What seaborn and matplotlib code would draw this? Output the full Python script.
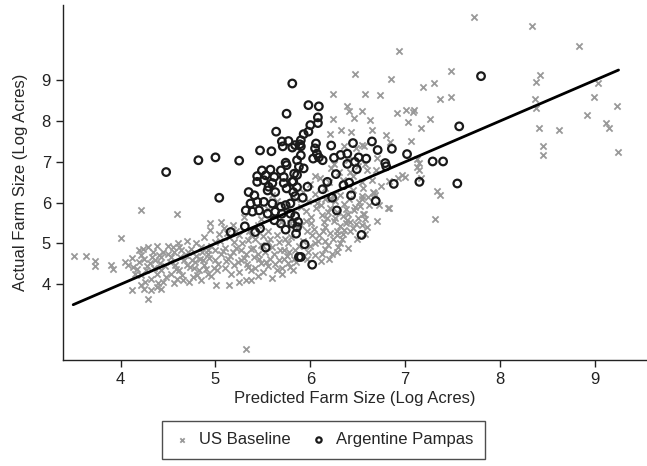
import numpy as np
import pandas as pd
import seaborn as sns
import matplotlib.pyplot as plt

# US Baseline (x = predicted, y = actual)
us_points = [
    (7.73, 10.54), (8.34, 10.32), (8.83, 9.83), (7.48, 9.23), (7.30, 8.93), (7.19, 8.84),
    (8.42, 9.14), (8.38, 8.96), (9.03, 8.92), (7.37, 8.54), (7.48, 8.59), (8.37, 8.53),
    (8.38, 8.31), (8.99, 8.58), (9.23, 8.36), (7.01, 8.28), (7.09, 8.26), (7.08, 8.22),
    (7.03, 7.98), (7.26, 8.04), (7.17, 7.83), (8.41, 7.82), (8.62, 7.79), (7.06, 7.50),
    (8.45, 7.39), (8.45, 7.18), (9.24, 7.24), (7.13, 7.06), (7.13, 6.88), (6.97, 6.68),
    (7.17, 6.61), (7.34, 6.28), (7.31, 5.60), (8.92, 8.14), (9.12, 7.94), (9.15, 7.82),
    (6.94, 9.71), (6.47, 9.16), (6.85, 9.04), (6.24, 8.66), (6.58, 8.66), (6.73, 8.64),
    (6.39, 8.38), (6.41, 8.24), (6.55, 8.25), (6.91, 8.19), (6.24, 8.04), (6.46, 8.07),
    (6.63, 8.03), (6.32, 7.79), (6.43, 7.72), (6.65, 7.79), (6.80, 7.65), (6.84, 7.48),
    (6.36, 7.38), (6.57, 7.40), (6.48, 7.35), (6.21, 7.68), (6.55, 7.42),
    (7.00, 6.62), (6.92, 6.60), (7.15, 6.80), (7.15, 6.98), (6.69, 6.80), (6.83, 6.52),
    (7.37, 6.20), (6.68, 6.20), (6.55, 6.10), (6.24, 6.20), (6.83, 5.86), (6.56, 5.73),
    (6.67, 6.24), (6.54, 6.16), (6.25, 5.56), (6.28, 5.31), (6.34, 5.23), (6.42, 5.52),
    (6.45, 5.39), (6.58, 5.23), (6.29, 4.92), (6.28, 4.80), (6.23, 4.75), (6.40, 5.72),
    (6.47, 5.89), (6.82, 5.86), (6.57, 5.73), (6.66, 6.25),
    (5.92, 6.25), (5.98, 6.05), (6.05, 6.22), (6.11, 5.94), (6.16, 6.08), (6.21, 5.88),
    (6.26, 6.03), (6.31, 6.18), (6.36, 5.96), (6.41, 6.09), (6.45, 6.31), (6.51, 6.01),
    (6.56, 6.36), (6.61, 6.13), (5.95, 5.79), (6.01, 5.64), (6.06, 5.86), (6.12, 5.69),
    (6.14, 5.53), (6.19, 5.76), (6.26, 5.62), (6.31, 5.44), (6.35, 5.68), (6.39, 5.57),
    (6.46, 5.81), (6.50, 5.62), (6.55, 5.46), (5.90, 5.45), (5.96, 5.31), (6.01, 5.50),
    (6.04, 5.36), (6.09, 5.21), (6.16, 5.41), (6.21, 5.26), (6.24, 5.11), (6.31, 5.01),
    (6.36, 5.34), (6.49, 5.12), (5.92, 5.06), (6.00, 4.94), (6.08, 5.06), (6.15, 4.86),
    (6.19, 4.96), (6.05, 4.71), (5.96, 4.61), (6.11, 4.56),
    (5.95, 5.55), (6.02, 5.20), (6.07, 5.98), (6.13, 5.30), (6.18, 5.62), (6.22, 6.10),
    (6.28, 5.78), (6.33, 5.10), (6.38, 5.85), (6.42, 5.30), (6.48, 5.48), (6.52, 5.92),
    (6.58, 5.60), (6.62, 5.95), (6.05, 5.00), (6.15, 5.05), (6.28, 5.20), (6.38, 5.50),
    (5.98, 4.80), (6.12, 4.75), (6.20, 4.62), (6.40, 4.90), (6.60, 5.40), (6.70, 5.55),
    (6.72, 5.95), (6.75, 6.40),
    (6.00, 6.45), (6.10, 6.60), (6.20, 6.50), (6.30, 6.75), (6.35, 6.55), (6.45, 6.65),
    (6.50, 6.90), (6.55, 6.50), (6.60, 6.80), (6.25, 6.95), (6.40, 7.05), (6.15, 6.35),
    (6.05, 6.65), (6.22, 6.85), (6.42, 6.75), (6.58, 6.95), (6.65, 6.55), (6.70, 7.10),
    (3.51, 4.69), (3.64, 4.69), (3.73, 4.57), (3.73, 4.44), (3.90, 4.47), (3.92, 4.37),
    (4.00, 5.13), (4.22, 5.83), (4.59, 5.72), (4.05, 4.55), (4.12, 3.85), (4.29, 3.63),
    (4.22, 3.98), (4.25, 3.89), (4.32, 3.85), (4.38, 3.93), (4.43, 3.89), (4.39, 4.02),
    (4.72, 4.06), (4.19, 4.83), (4.24, 4.87), (4.29, 4.91), (4.34, 4.79), (4.38, 4.93),
    (4.08, 4.47), (4.13, 4.42), (4.19, 4.55), (4.25, 4.63), (4.31, 4.51), (4.36, 4.59),
    (4.43, 4.67), (4.50, 4.75), (4.55, 4.91), (4.60, 5.00), (4.64, 4.83), (4.69, 4.71),
    (4.74, 4.87), (4.80, 5.00), (4.85, 4.91), (4.92, 4.83), (4.53, 4.67), (4.57, 4.47),
    (4.62, 4.34), (4.67, 4.59), (4.73, 4.42), (4.78, 4.55), (4.83, 4.34), (4.88, 4.47),
    (4.92, 4.26), (4.43, 4.34), (4.48, 4.18), (4.53, 4.26), (4.59, 4.14), (4.66, 4.10),
    (4.38, 4.26), (4.32, 4.14), (4.27, 4.34), (4.22, 4.22), (4.15, 4.26), (4.81, 4.22),
    (4.76, 4.18),
    (4.12, 4.65), (4.17, 4.38), (4.21, 4.72), (4.28, 4.45), (4.33, 4.68), (4.35, 4.40),
    (4.41, 4.52), (4.45, 4.80), (4.47, 4.45), (4.52, 4.55), (4.56, 4.80), (4.58, 4.38),
    (4.63, 4.68), (4.65, 4.22), (4.70, 4.48), (4.71, 4.80), (4.77, 4.40), (4.79, 4.70),
    (4.84, 4.62), (4.86, 4.80), (4.90, 4.38), (4.93, 4.65), (4.50, 4.95), (4.40, 4.72),
    (4.62, 4.92), (4.45, 4.05), (4.26, 4.05), (4.56, 4.02),
    (4.88, 5.16), (4.94, 5.32), (4.99, 5.04), (5.04, 5.24), (5.09, 5.37), (5.14, 5.16),
    (5.20, 5.04), (5.25, 5.20), (5.27, 4.83), (5.34, 5.08), (5.37, 4.87), (5.42, 5.12),
    (5.48, 4.96), (5.55, 5.04), (5.60, 4.91), (5.67, 5.04), (5.72, 4.83), (5.77, 5.00),
    (5.84, 4.83), (4.92, 4.75), (4.99, 4.59), (5.06, 4.75), (5.13, 4.63), (5.20, 4.47),
    (5.27, 4.59), (5.34, 4.42), (5.41, 4.67), (5.48, 4.51), (5.58, 4.63), (5.67, 4.59),
    (5.76, 4.51), (5.83, 4.63), (5.02, 4.34), (5.16, 4.26), (5.37, 4.34), (5.01, 3.98),
    (5.14, 3.98), (5.37, 4.10), (5.65, 4.34), (5.79, 4.42), (5.30, 5.65), (5.48, 5.61),
    (5.69, 5.53), (5.79, 5.49), (5.86, 5.37), (4.94, 5.49), (5.06, 5.53), (5.18, 5.45),
    (4.95, 4.95), (5.00, 4.85), (5.05, 5.05), (5.10, 4.90), (5.15, 4.70), (5.22, 4.90),
    (5.30, 4.65), (5.45, 4.75), (5.50, 4.95), (5.55, 4.45), (5.62, 4.75), (5.70, 4.40),
    (5.75, 4.70), (5.85, 4.55), (5.65, 5.20), (5.55, 5.30), (5.80, 5.15), (5.35, 5.30),
    (5.45, 5.45), (4.70, 5.05), (4.75, 4.60), (4.87, 4.60), (4.98, 4.40), (5.10, 4.40),
    (5.25, 4.30), (5.45, 4.20), (5.60, 4.15), (4.85, 4.10), (4.95, 4.20), (5.32, 4.10),
    (5.03, 4.50), (5.08, 4.82), (5.11, 4.58), (5.18, 4.78), (5.24, 4.55), (5.28, 5.00),
    (5.32, 4.75), (5.33, 4.50), (5.40, 4.88), (5.42, 4.40), (5.46, 4.62), (5.52, 4.78),
    (5.53, 4.55), (5.58, 5.12), (5.63, 4.50), (5.68, 4.85), (5.72, 4.62), (5.73, 5.10),
    (5.78, 4.78), (5.82, 4.35), (5.88, 4.95), (5.12, 5.25), (5.22, 5.30), (5.38, 5.20),
    (5.50, 5.18), (5.25, 4.05), (5.50, 4.30), (5.70, 4.25),
    (5.55, 5.85), (5.65, 6.05), (5.75, 5.85), (5.85, 6.10), (5.60, 6.20), (5.90, 5.90),
    (5.32, 2.41),
]

# Argentine Pampas
pampas_points = [
    (7.80, 9.10), (7.57, 7.87), (7.02, 7.19), (7.29, 7.01), (7.40, 7.01), (7.15, 6.51),
    (7.55, 6.47), (6.22, 7.40), (6.45, 7.46), (6.65, 7.50), (6.71, 7.29), (6.86, 7.32),
    (6.25, 7.10), (6.32, 7.17), (6.39, 7.20), (6.51, 7.11), (6.59, 7.08), (6.47, 7.00),
    (6.39, 6.95), (6.49, 6.82), (6.79, 6.97), (6.80, 6.89), (6.27, 6.70), (6.41, 6.49),
    (6.35, 6.43), (6.88, 6.46), (6.43, 6.18), (6.69, 6.04), (6.23, 6.12), (6.28, 5.81),
    (6.54, 5.21), (5.86, 6.68), (5.82, 6.52), (5.86, 6.38), (5.97, 6.39), (5.84, 6.16),
    (5.92, 6.12), (6.13, 6.33), (5.84, 5.67), (5.87, 5.53), (5.86, 5.40), (5.85, 5.24),
    (5.94, 4.98), (5.90, 4.67), (6.02, 4.48), (5.81, 8.92), (5.98, 8.39), (6.09, 8.36),
    (6.08, 8.09), (6.00, 7.90), (6.08, 7.95), (5.98, 7.74), (5.93, 7.68), (5.90, 7.53),
    (5.84, 7.41), (5.90, 7.38), (5.81, 7.35), (6.06, 7.45), (6.05, 7.33), (6.07, 7.20),
    (6.09, 7.11), (6.03, 7.08), (6.13, 7.04), (5.88, 6.88), (5.93, 6.84), (5.75, 8.18),
    (5.64, 7.74), (5.70, 7.50), (5.77, 7.51), (5.71, 7.38), (5.47, 7.28), (5.59, 7.26),
    (5.00, 7.11), (5.25, 7.03), (4.82, 7.04), (4.48, 6.75), (5.89, 7.43), (5.90, 7.16),
    (5.74, 6.98), (5.86, 7.04), (5.49, 6.79), (5.58, 6.81), (5.69, 6.79), (5.75, 6.92),
    (5.44, 6.65), (5.53, 6.67), (5.62, 6.63), (5.72, 6.63), (5.83, 6.71), (5.44, 6.51),
    (5.51, 6.55), (5.60, 6.48), (5.72, 6.48), (5.81, 6.51), (5.35, 6.26), (5.41, 6.18),
    (5.55, 6.30), (5.56, 6.39), (5.63, 6.26), (5.04, 6.12), (6.18, 6.51), (5.75, 6.35),
    (5.82, 6.26), (5.37, 5.98), (5.44, 6.02), (5.51, 6.02), (5.60, 5.98), (5.69, 5.90),
    (5.74, 5.94), (5.79, 5.98), (5.32, 5.81), (5.39, 5.78), (5.46, 5.81), (5.55, 5.73),
    (5.63, 5.78), (5.70, 5.73), (5.79, 5.73), (5.16, 5.28), (5.31, 5.42), (5.42, 5.28),
    (5.47, 5.37), (5.53, 4.90), (5.62, 5.57), (5.69, 5.49), (5.74, 5.34), (5.81, 5.49),
    (5.88, 4.67),
]

# fitted line end points
line_x = [3.5, 9.25]
line_y = [3.5, 9.25]

x_ticks = [4, 5, 6, 7, 8, 9]
y_ticks = [4, 5, 6, 7, 8, 9]

us = pd.DataFrame(us_points, columns=['pred', 'actual'])
pampas = pd.DataFrame(pampas_points, columns=['pred', 'actual'])

sns.set_style('ticks')
plt.rcParams['font.family'] = ['Liberation Sans', 'DejaVu Sans']

fig = plt.figure(figsize=(6.47, 4.66), dpi=100)
ax = fig.add_axes([0.097, 0.227, 0.903, 0.762])

sns.scatterplot(data=us, x='pred', y='actual', marker='x', s=20, color='#999999',
                linewidth=1.3, label='US Baseline', ax=ax, zorder=2)
sns.scatterplot(data=pampas, x='pred', y='actual', marker='o', s=30, facecolor='none',
                edgecolor='#1a1a1a', linewidth=1.6, label='Argentine Pampas', ax=ax, zorder=3)
sns.lineplot(x=line_x, y=line_y, color='black', linewidth=2, ax=ax, zorder=4, legend=False)

ax.set_xlim(3.39, 9.55)
ax.set_ylim(2.14, 10.84)
ax.set_xticks(x_ticks)
ax.set_yticks(y_ticks)
ax.tick_params(labelsize=12, length=5, width=1, colors='#222222')
ax.set_xlabel('Predicted Farm Size (Log Acres)', fontsize=12, labelpad=3)
ax.set_ylabel('Actual Farm Size (Log Acres)', fontsize=12, labelpad=10)
sns.despine(ax=ax)
for side in ['left', 'bottom']:
    ax.spines[side].set_color('#222222')
    ax.spines[side].set_linewidth(1.0)

handles, labels = ax.get_legend_handles_labels()
ax.get_legend().remove()
leg = fig.legend(handles, labels, loc='center', bbox_to_anchor=(0.5, 0.056), ncol=2,
                 fontsize=12, frameon=True, fancybox=False, edgecolor='#222222',
                 markerscale=0.7, columnspacing=1.2, handletextpad=0.5,
                 borderpad=0.7, handlelength=1.0)
leg.get_frame().set_linewidth(1.0)

fig.savefig('out.png', dpi=100)
